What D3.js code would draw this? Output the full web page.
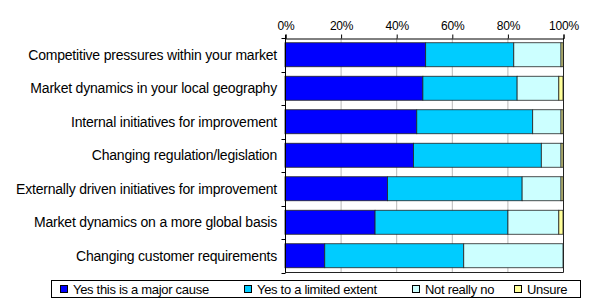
<!DOCTYPE html>
<html><head><meta charset="utf-8">
<script src="https://cdn.jsdelivr.net/npm/d3@7"></script>
<style>body{margin:0;background:#fff}svg{display:block}text{font-family:Arial,"Liberation Sans",sans-serif}</style>
</head><body>
<script>
const categories = [
  "Competitive pressures within your market",
  "Market dynamics in your local geography",
  "Internal initiatives for improvement",
  "Changing regulation/legislation",
  "Externally driven initiatives for improvement",
  "Market dynamics on a more global basis",
  "Changing customer requirements"
];
const seriesNames = ["Yes this is a major cause","Yes to a limited extent","Not really no","Unsure"];
const majorCause   = [50.6, 49.6, 47.4, 46.2, 36.9, 32.4, 14.3];
const limitedExtent= [31.7, 33.9, 41.7, 46.0, 48.4, 47.8, 50.0];
const notReally    = [17.0, 15.0, 10.2,  7.1, 14.0, 18.3, 35.7];
const unsure       = [ 0.7,  1.5,  0.7,  0.7,  0.7,  1.5,  0.0];
const tickValues = [0, 20, 40, 60, 80, 100];
const colors = ["#0000FF","#00CCFF","#CCFFFF","#FFFF99"];

const W = 591, H = 298;
const svg = d3.select("body").append("svg").attr("width", W).attr("height", H);
const x = d3.scaleLinear().domain([0,100]).range([285,563]);
const y = d3.scaleBand().domain(categories).range([38,272.5]).paddingInner(0.2836).paddingOuter(0.1418);

const seriesData = [majorCause, limitedExtent, notReally, unsure];
const rows = categories.map((c,i)=>{const o={cat:c}; seriesNames.forEach((s,k)=>o[s]=seriesData[k][i]); return o;});
const stacked = d3.stack().keys(seriesNames)(rows);

// gridlines
svg.append("g").selectAll("line").data(tickValues.slice(1,-1)).join("line")
  .attr("x1",d=>x(d)+0.5).attr("x2",d=>x(d)+0.5).attr("y1",38).attr("y2",272.5)
  .attr("stroke","#b8b8b8").attr("stroke-width",1);

// bars
svg.append("g").selectAll("g").data(stacked).join("g")
  .attr("fill",(d,i)=>colors[i])
  .selectAll("rect").data(d=>d).join("rect")
  .attr("x",d=>x(d[0])).attr("width",d=>Math.max(0,x(d[1])-x(d[0])))
  .attr("y",d=>y(d.data.cat)).attr("height",y.bandwidth())
  .attr("stroke","#222").attr("stroke-width",0.8);

// plot frame right/bottom
svg.append("line").attr("x1",x(100)+0.5).attr("x2",x(100)+0.5).attr("y1",38).attr("y2",272.5).attr("stroke","#222");
svg.append("line").attr("x1",x(0)).attr("x2",x(100)+0.5).attr("y1",272.5).attr("y2",272.5).attr("stroke","#222");

// top axis
const xAxis = d3.axisTop(x).tickValues(tickValues).tickFormat(d=>d+"%").tickSize(4).tickPadding(5);
const gx = svg.append("g").attr("transform","translate(0.5,38.5)").call(xAxis);
gx.select(".domain").attr("stroke","#000");
gx.selectAll("line").attr("stroke","#000");
gx.selectAll("text").attr("font-size","12px").attr("fill","#000").attr("letter-spacing","-0.2px").attr("font-family","Arial, 'Liberation Sans', sans-serif");

// left axis
const gy = svg.append("g").attr("transform","translate(285.5,0)");
gy.append("line").attr("x1",0).attr("x2",0).attr("y1",35).attr("y2",272.5).attr("stroke","#000");
const bounds = d3.range(categories.length+1).map(i=>38 + i*y.step());
gy.selectAll("line.tk").data(bounds).join("line").attr("class","tk")
  .attr("x1",-4).attr("x2",0).attr("y1",d=>Math.round(d)+0.5).attr("y2",d=>Math.round(d)+0.5).attr("stroke","#000");
svg.append("g").selectAll("text").data(categories).join("text")
  .attr("x",277).attr("y",d=>y(d)+y.bandwidth()/2).attr("dy","0.35em")
  .attr("text-anchor","end").attr("font-size","14px").attr("letter-spacing","-0.2px").text(d=>d);

// legend
svg.append("rect").attr("x",51.5).attr("y",280.5).attr("width",529).attr("height",17)
  .attr("fill","#fff").attr("stroke","#000");
const legX = [60, 244, 412, 514];
const lg = svg.append("g").selectAll("g").data(seriesNames).join("g")
  .attr("transform",(d,i)=>`translate(${legX[i]},289)`);
lg.append("rect").attr("x",0.5).attr("y",-3.5).attr("width",7).attr("height",7)
  .attr("fill",(d,i)=>colors[i]).attr("stroke","#000");
lg.append("text").attr("x",13).attr("dy","0.35em").attr("font-size","13px").attr("letter-spacing","-0.3px").text(d=>d);
</script>
</body></html>
